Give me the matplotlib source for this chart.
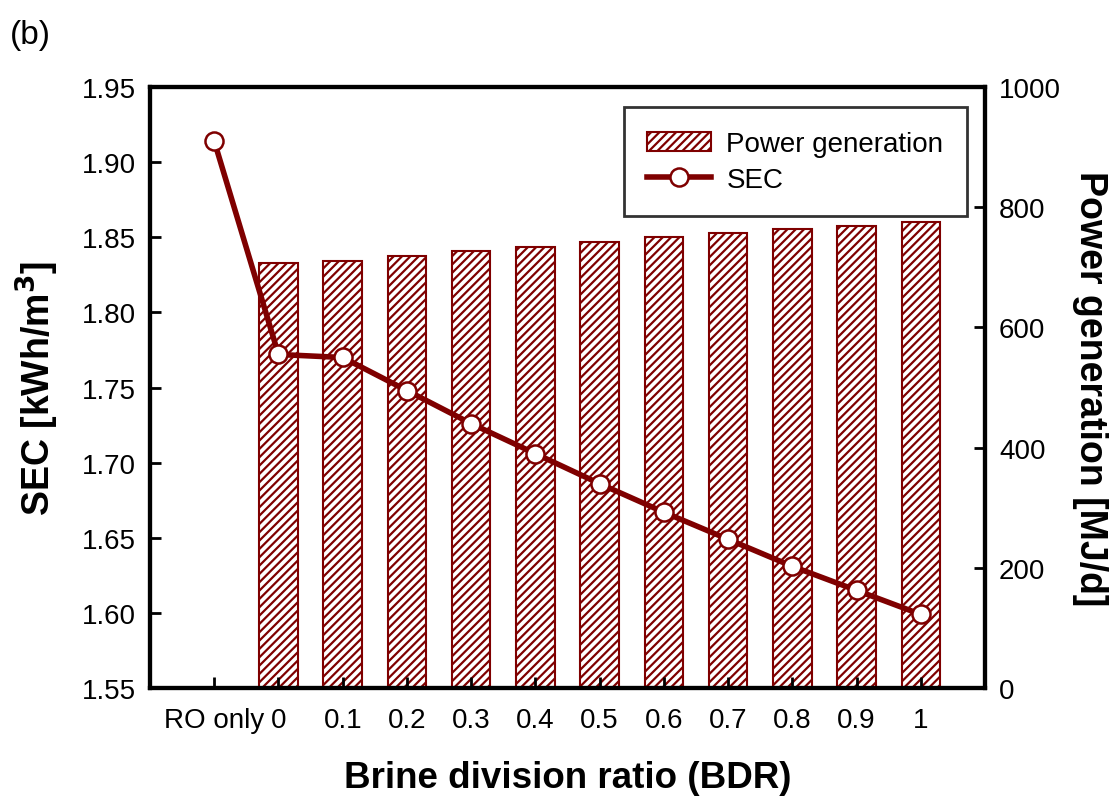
import matplotlib
matplotlib.use('Agg')
from matplotlib import pyplot as plt
import numpy as np

plt.rcParams['font.family'] = ['Liberation Sans', 'DejaVu Sans']
plt.rcParams['hatch.linewidth'] = 1.6
plt.rcParams['hatch.color'] = '#7f0000'

# data
categories = ['RO only', '0', '0.1', '0.2', '0.3', '0.4', '0.5', '0.6', '0.7', '0.8', '0.9', '1']
sec = [1.914, 1.772, 1.770, 1.748, 1.726, 1.706, 1.686, 1.667, 1.649, 1.631, 1.615, 1.599]
power = [707, 711, 719, 728, 734, 742, 750, 757, 764, 769, 775]  # no bar for "RO only"

red = '#7f0000'
x = np.arange(len(categories))

fig = plt.figure(figsize=(11.12, 8.04), dpi=100)
ax = fig.add_axes([0.1349, 0.1430, 0.7509, 0.7475])
ax2 = ax.twinx()

bars = ax2.bar(x[1:], power, width=0.6, facecolor='white', edgecolor=red,
               linewidth=1.5, hatch='////', label='Power generation', zorder=1)
ax2.set_ylim(0, 1000)
ax2.set_yticks(np.arange(0, 1001, 200))

ax.set_zorder(ax2.get_zorder() + 1)
ax.patch.set_visible(False)
line, = ax.plot(x, sec, color=red, linewidth=4, marker='o', markersize=13,
                markerfacecolor='white', markeredgecolor=red, markeredgewidth=1.8,
                label='SEC', zorder=3)
ax.set_ylim(1.55, 1.95)
ax.set_yticks(np.arange(1.55, 1.951, 0.05))
ax.set_yticklabels(['%.2f' % v for v in np.arange(1.55, 1.951, 0.05)])
ax.set_xlim(-1, 12)
ax.set_xticks(x)
ax.set_xticklabels(categories)

for a in (ax, ax2):
    for s in a.spines.values():
        s.set_linewidth(3)
    a.tick_params(direction='in', length=8, width=2, labelsize=20, pad=10)
ax.tick_params(axis='x', pad=14)

ax.set_xlabel('Brine division ratio (BDR)', fontsize=26.5, fontweight='bold', labelpad=19)
ax.set_ylabel('SEC [kWh/m$^\\mathbf{3}$]', fontsize=27, fontweight='bold', labelpad=15)
ax2.set_ylabel('Power generation [MJ/d]', fontsize=27, fontweight='bold',
               rotation=270, labelpad=34)

leg = ax.legend([bars, line], ['Power generation', 'SEC'], loc='upper right',
                bbox_to_anchor=(0.9784, 0.966), fontsize=20, frameon=True,
                fancybox=False, edgecolor='black', handlelength=2.3,
                handletextpad=0.55, borderpad=0.85, labelspacing=0.35,
                borderaxespad=0)
leg.get_frame().set_linewidth(2)

fig.text(0.009, 0.945, '(b)', fontsize=24)

plt.savefig('out.png', dpi=100)
